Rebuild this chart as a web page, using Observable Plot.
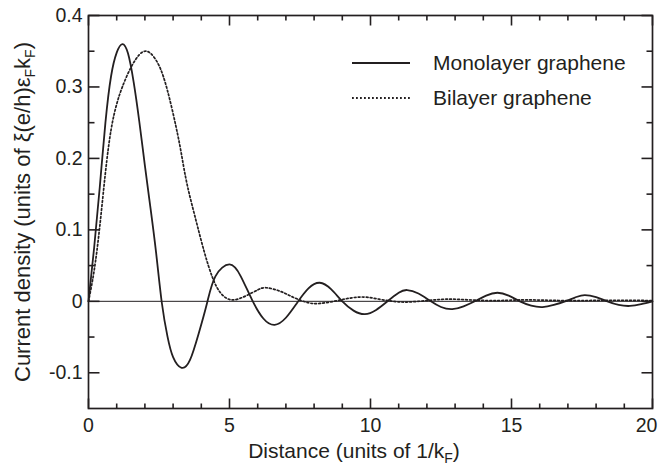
<!DOCTYPE html>
<html><head><meta charset="utf-8">
<script src="https://cdn.jsdelivr.net/npm/d3@7"></script>
<script src="https://cdn.jsdelivr.net/npm/@observablehq/plot@0.6"></script>
<style>body{margin:0;background:#fff} svg{display:block}</style>
</head><body><div id="chart"></div>
<script>
// Monolayer graphene (solid)
const monoX = [0, 0.2, 0.4, 0.6, 0.8, 1.0, 1.2, 1.4, 1.6, 1.8, 2.0, 2.2, 2.4, 2.6, 2.8, 3.0, 3.3, 3.6, 3.9, 4.2, 4.5, 5.0, 5.4, 5.8, 6.2, 6.6, 7.0, 7.4, 7.8, 8.2, 8.6, 9.0, 9.4, 9.8, 10.2, 10.6, 11.0, 11.3, 11.7, 12.1, 12.5, 12.9, 13.3, 13.7, 14.1, 14.5, 14.9, 15.3, 15.7, 16.1, 16.5, 16.9, 17.3, 17.6, 18.0, 18.4, 18.8, 19.2, 19.6, 20.0];
const monoY = [0, 0.075, 0.16, 0.25, 0.315, 0.348, 0.36, 0.347, 0.307, 0.252, 0.19, 0.13, 0.067, -0.002, -0.049, -0.078, -0.093, -0.082, -0.046, -0.003, 0.035, 0.0516, 0.035, 0.002, -0.024, -0.033, -0.023, -0.002, 0.018, 0.026, 0.017, 0.0, -0.013, -0.018, -0.012, 0.0, 0.012, 0.0158, 0.011, 0.001, -0.008, -0.011, -0.007, 0.0, 0.008, 0.012, 0.008, 0.0, -0.006, -0.008, -0.005, 0.0, 0.006, 0.0088, 0.006, 0.0, -0.005, -0.0065, -0.004, 0.0];
// Bilayer graphene (dotted)
const biX = [0, 0.2, 0.4, 0.6, 0.8, 1.0, 1.2, 1.5, 1.8, 2.0, 2.2, 2.5, 2.8, 3.1, 3.3, 3.5, 3.8, 4.1, 4.4, 4.7, 5.1, 5.6, 6.0, 6.3, 6.8, 7.3, 7.8, 8.2, 8.7, 9.2, 9.75, 10.3, 10.8, 11.3, 12.0, 12.7, 13.5, 14.5, 15.5, 17.0, 18.5, 20.0];
const biY = [0, 0.043, 0.105, 0.18, 0.24, 0.276, 0.3, 0.327, 0.345, 0.35, 0.347, 0.33, 0.295, 0.245, 0.205, 0.163, 0.115, 0.07, 0.033, 0.011, 0.002, 0.008, 0.016, 0.019, 0.014, 0.005, -0.002, -0.003, 0.0, 0.004, 0.006, 0.003, 0.0, -0.001, 0.001, 0.003, 0.002, 0.001, 0.002, 0.001, 0.0015, 0.001];

const seriesNames = ["Monolayer graphene", "Bilayer graphene"];
const xDomain = [0, 20];
const yDomain = [-0.15, 0.4];
const xMajor = [0, 5, 10, 15, 20];
const xMinor = [1, 2, 3, 4, 6, 7, 8, 9, 11, 12, 13, 14, 16, 17, 18, 19];
const yMajor = [-0.1, 0, 0.1, 0.2, 0.3, 0.4];
const yMinor = [-0.05, 0.05, 0.15, 0.25, 0.35];
const yTickLabels = ["-0.1", "0", "0.1", "0.2", "0.3", "0.4"];
const zeroLine = [0];

const W = 660, H = 470, mL = 88, mR = 8, mT = 15, mB = 62;
// tick lengths are given in pixels; convert to data units along each axis
const xPerPx = (xDomain[1] - xDomain[0]) / (W - mL - mR);
const yPerPx = (yDomain[1] - yDomain[0]) / (H - mT - mB);

const ink = "#231f20";
const font = "Helvetica, Arial, 'Liberation Sans', sans-serif";
const mono = monoX.map((x, i) => ({x, y: monoY[i]}));
const bi = biX.map((x, i) => ({x, y: biY[i]}));

function xTickMarks(vals, len) {
  return [
    Plot.link(vals, {x1: d => d, x2: d => d, y1: () => yDomain[0], y2: () => yDomain[0] + len * yPerPx, stroke: ink, strokeWidth: 1.6}),
    Plot.link(vals, {x1: d => d, x2: d => d, y1: () => yDomain[1], y2: () => yDomain[1] - len * yPerPx, stroke: ink, strokeWidth: 1.6})
  ];
}
function yTickMarks(vals, len) {
  return [
    Plot.link(vals, {y1: d => d, y2: d => d, x1: () => xDomain[0], x2: () => xDomain[0] + len * xPerPx, stroke: ink, strokeWidth: 1.6}),
    Plot.link(vals, {y1: d => d, y2: d => d, x1: () => xDomain[1], x2: () => xDomain[1] - len * xPerPx, stroke: ink, strokeWidth: 1.6})
  ];
}

const chart = Plot.plot({
  width: W, height: H,
  marginLeft: mL, marginRight: mR, marginTop: mT, marginBottom: mB,
  style: {fontFamily: font, fontSize: "19.5px", color: ink, background: "#fff"},
  x: {domain: xDomain},
  y: {domain: yDomain},
  marks: [
    Plot.ruleY(zeroLine, {stroke: ink, strokeWidth: 1}),
    Plot.line(mono, {x: "x", y: "y", stroke: ink, strokeWidth: 1.8, curve: "natural"}),
    Plot.line(bi, {x: "x", y: "y", stroke: ink, strokeWidth: 1.7, strokeDasharray: "1.8,2.2", curve: "natural"}),
    ...xTickMarks(xMajor, 10), ...xTickMarks(xMinor, 5),
    ...yTickMarks(yMajor, 11), ...yTickMarks(yMinor, 6),
    Plot.frame({stroke: ink, strokeWidth: 1.7}),
    Plot.axisX({anchor: "bottom", ticks: xMajor.slice(0, -1), tickSize: 0, tickPadding: 10, label: null, fill: ink}),
    Plot.axisX({anchor: "bottom", ticks: xMajor.slice(-1), tickSize: 0, tickPadding: 10, label: null, fill: ink, dx: -6}),
    Plot.axisY({anchor: "left", ticks: yMajor, tickSize: 0, tickPadding: 6, label: null, fill: ink,
      tickFormat: d => yTickLabels[yMajor.findIndex(v => Math.abs(v - d) < 1e-9)]})
  ]
});

const svg = d3.select(chart);

// x-axis title with subscript
const xt = svg.append("text").attr("x", 354).attr("y", 458).attr("text-anchor", "middle")
  .attr("font-family", font).attr("font-size", 21).attr("fill", ink);
xt.append("tspan").text("Distance (units of 1/k");
xt.append("tspan").attr("dy", 5).attr("font-size", 14).text("F");
xt.append("tspan").attr("dy", -5).text(")");

// y-axis title with subscripts
const yt = svg.append("text").attr("transform", "translate(30,212) rotate(-90)").attr("text-anchor", "middle")
  .attr("font-family", font).attr("font-size", 22).attr("fill", ink);
yt.append("tspan").text("Current density (units of ξ(e/h)ε");
yt.append("tspan").attr("dy", 5).attr("font-size", 14).text("F");
yt.append("tspan").attr("dy", -5).text("k");
yt.append("tspan").attr("dy", 5).attr("font-size", 14).text("F");
yt.append("tspan").attr("dy", -5).text(")");

// legend
const leg = svg.append("g").attr("font-family", font).attr("font-size", 21).attr("fill", ink).attr("text-anchor", "start");
const legRows = [{y: 63, dash: null}, {y: 98, dash: "1.8,2.2"}];
legRows.forEach((r, i) => {
  leg.append("line").attr("x1", 352).attr("x2", 410).attr("y1", r.y).attr("y2", r.y)
    .attr("stroke", ink).attr("stroke-width", 1.8).attr("stroke-dasharray", r.dash);
  leg.append("text").attr("x", 433).attr("y", r.y + 7).attr("text-anchor", "start").text(seriesNames[i]);
});

document.getElementById("chart").appendChild(chart);
</script>
</body></html>
